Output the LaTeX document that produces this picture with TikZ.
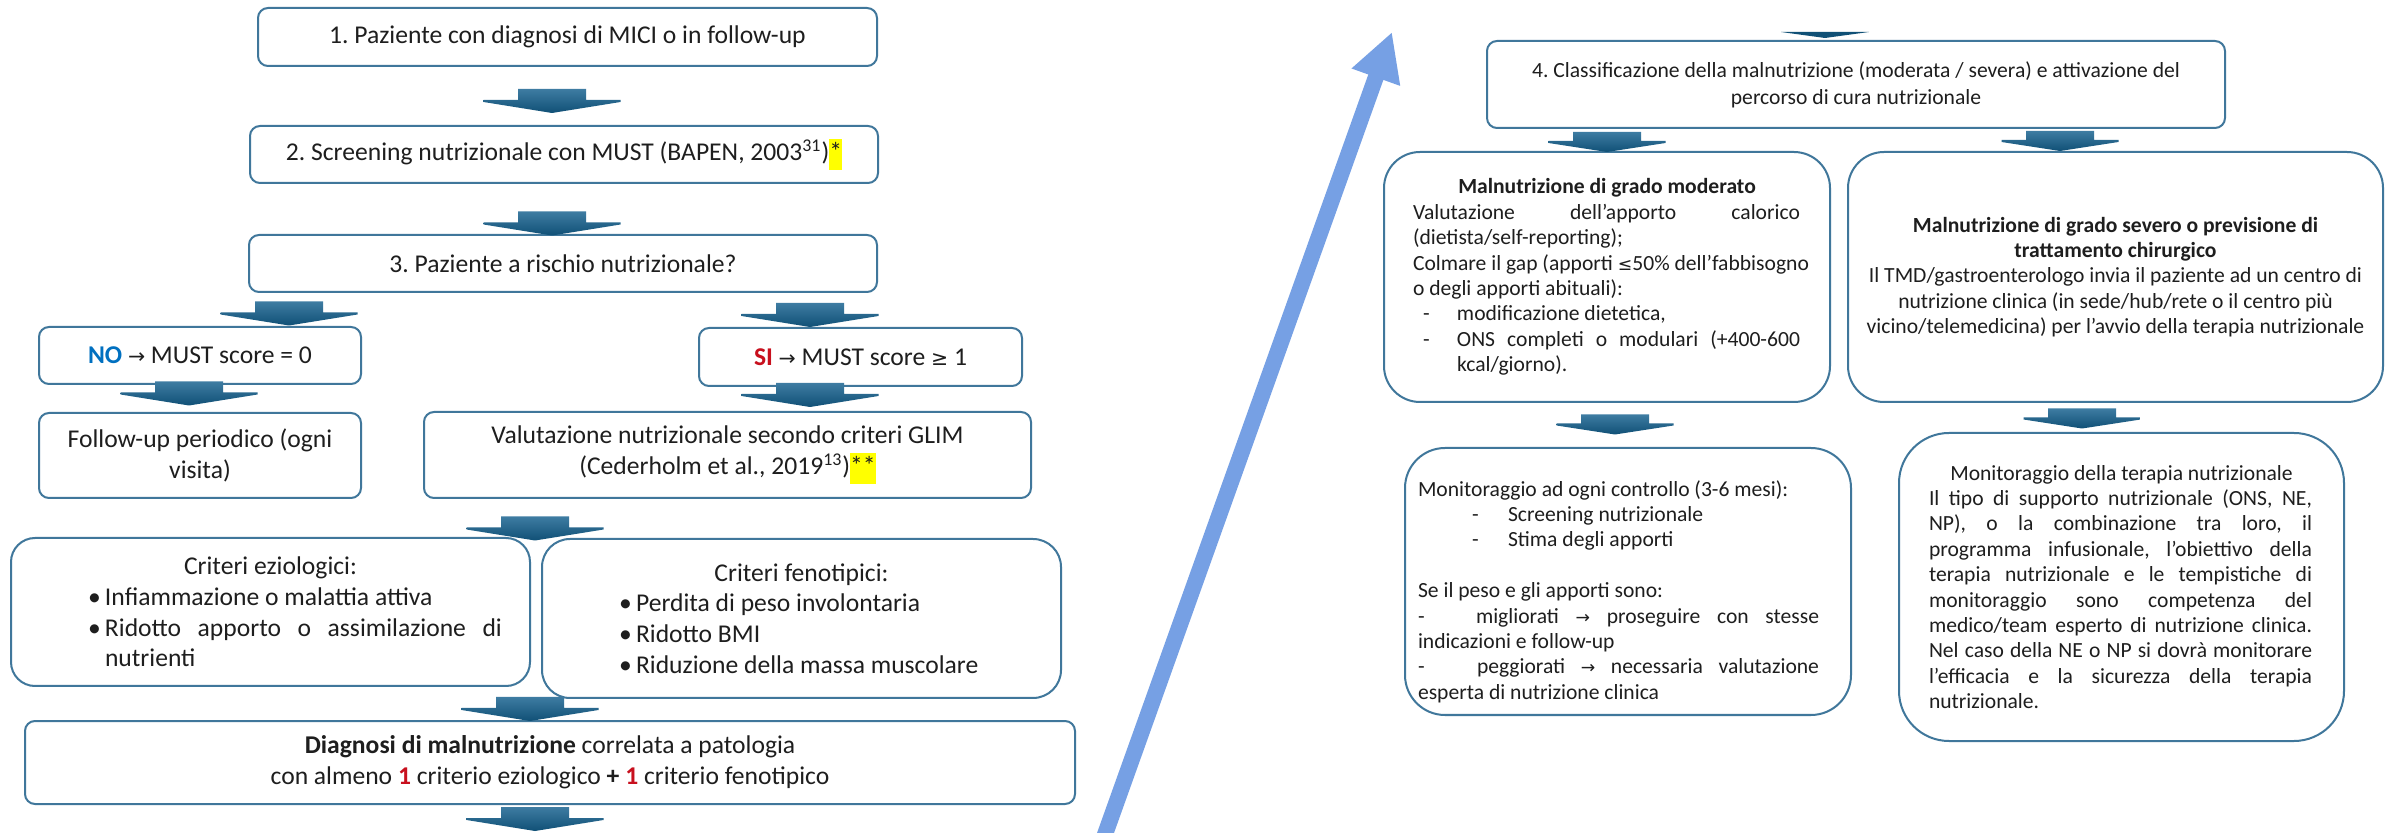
\documentclass[tikz,border=0pt]{standalone}
\usepackage{fontspec}
\setmainfont{Carlito}
\newfontfamily\arrfont[Scale=0.8]{DejaVu Sans}
\usetikzlibrary{arrows.meta}
\frenchspacing

\definecolor{boxline}{RGB}{64,119,155}
\definecolor{arrtop}{RGB}{62,124,162}
\definecolor{arrbot}{RGB}{16,80,118}
\definecolor{bigblue}{RGB}{118,160,228}
\definecolor{txt}{RGB}{30,30,30}
\definecolor{noblue}{RGB}{0,112,192}
\definecolor{sired}{RGB}{200,16,30}
\definecolor{hlyellow}{RGB}{255,255,0}

\newcommand{\lfont}{\fontsize{12.8}{15.3}\selectfont}
\newcommand{\rfont}{\fontsize{10.8}{12.7}\selectfont}
\newcommand{\jl}[2]{\makebox[#1][s]{#2}}
\newcommand{\hlt}[1]{{\setlength{\fboxsep}{0pt}\colorbox{hlyellow}{\strut#1}}}

\tikzset{
  box/.style={draw=boxline, line width=1pt, fill=white, inner sep=0pt, text=txt, rounded corners=5pt, font=\lfont},
  rbox/.style={box, font=\rfont},
  bigarrow/.style={draw=bigblue, line width=8pt, -{Triangle[length=24pt 0 0, width=24pt 0 0]}},
  pics/blockdown/.style 2 args={code={
    \path[top color=arrtop, bottom color=arrbot]
      (-34,-#2) -- (34,-#2) -- (34,-1) -- (#1,-1) -- (#1,1) -- (0,#2) -- (-#1,1) -- (-#1,-1) -- (-34,-1) -- cycle;
  }},
}

\begin{document}
\begin{tikzpicture}[x=0.5pt, y=-0.5pt]
\path[use as bounding box, fill=white] (0,0) rectangle (2394,833);

% Steps 1-3
\node[box, minimum height=29pt, text width=309.5pt, align=flush center] (paz) at (567.5,37) {1. Paziente con diagnosi di MICI o in follow-up};
\node[box, minimum height=28.5pt, text width=314pt, align=flush center] (scr) at (564,154.5) {2. Screening nutrizionale con MUST (BAPEN, 2003\textsuperscript{31})\hlt{*}};
\node[box, minimum height=28.5pt, text width=314pt, align=flush center] (risk) at (563,263.5) {3. Paziente a rischio nutrizionale?};

% NO / SI
\node[box, minimum height=28.5pt, text width=161pt, align=flush center] (no) at (200,355.5) {\textcolor{noblue}{\textbf{NO}} {\arrfont →} MUST score = 0};
\node[box, minimum height=29pt, text width=161.5pt, align=flush center] (si) at (860.5,357) {\textcolor{sired}{\textbf{SI}} {\arrfont →} MUST score {\arrfont ≥} 1};

% Follow-up and GLIM
\node[box, minimum height=42.5pt, text width=161pt, align=flush center] (fup) at (200,455.5) {Follow-up periodico (ogni\\visita)};
\node[box, minimum height=43pt, text width=303.5pt, align=flush center] (glim) at (727.5,455) {Valutazione nutrizionale secondo criteri GLIM\\(Cederholm et al., 2019\textsuperscript{13})\hlt{**}};

% Criteria
\node[box, rounded corners=12pt, minimum height=74pt, text width=259.5pt, align=flush left] (ezio) at (270.5,612) {\makebox[259.5pt]{Criteri eziologici:}\\
\hspace*{38.5pt}\makebox[8.5pt][l]{\textbullet}Infiammazione o malattia attiva\\
\hspace*{38.5pt}\makebox[8.5pt][l]{\textbullet}\jl{198.5pt}{Ridotto apporto o assimilazione di}\\
\hspace*{47pt}nutrienti};
\node[box, rounded corners=14pt, minimum height=79.5pt, text width=259.5pt, align=flush left] (feno) at (801.5,618.5) {\makebox[259.5pt]{Criteri fenotipici:}\\
\hspace*{38.5pt}\makebox[8.5pt][l]{\textbullet}Perdita di peso involontaria\\
\hspace*{38.5pt}\makebox[8.5pt][l]{\textbullet}Ridotto BMI\\
\hspace*{38.5pt}\makebox[8.5pt][l]{\textbullet}Riduzione della massa muscolare};

% Diagnosis
\node[box, minimum height=41.5pt, text width=525pt, align=flush center] (diag) at (550,762.5) {\textbf{Diagnosi di malnutrizione} correlata a patologia\\con almeno \textcolor{sired}{\textbf{1}} criterio eziologico \textbf{+} \textcolor{sired}{\textbf{1}} criterio fenotipico};

% Step 4
\node[rbox, minimum height=43.5pt, text width=369pt, align=flush center, font=\fontsize{10.8}{13.5}\selectfont] (clas) at (1856,84.5) {4. Classificazione della malnutrizione (moderata / severa) e attivazione del\\percorso di cura nutrizionale\\[4pt]};

% Moderate / severe
\node[rbox, rounded corners=18pt, minimum height=125pt, text width=223pt, align=flush left] (mod) at (1607,277) {\makebox[223pt]{\textbf{Malnutrizione di grado moderato}}\\
\hspace*{14.5pt}\jl{193.5pt}{Valutazione dell’apporto calorico}\\
\hspace*{14.5pt}(dietista/self-reporting);\\
\hspace*{14.5pt}Colmare il gap (apporti {\arrfont ≤}50\% dell’fabbisogno\\
\hspace*{14.5pt}o degli apporti abituali):\\
\hspace*{19.5pt}\makebox[17pt][l]{-}modificazione dietetica,\\
\hspace*{19.5pt}\makebox[17pt][l]{-}\jl{171.5pt}{ONS completi o modulari (+400-600}\\
\hspace*{36.5pt}kcal/giorno).};
\node[rbox, rounded corners=18pt, minimum height=125pt, text width=267.5pt, align=flush center] (sev) at (2115.5,277) {\textbf{Malnutrizione di grado severo o previsione di}\\\textbf{trattamento chirurgico}\\Il TMD/gastroenterologo invia il paziente ad un centro di\\nutrizione clinica (in sede/hub/rete o il centro più\\vicino/telemedicina) per l’avvio della terapia nutrizionale};

% Monitoring
\node[rbox, rounded corners=20pt, minimum height=133.5pt, text width=223pt, align=flush left] (monmod) at (1628,581.5) {
\hspace*{6.5pt}\rule{0pt}{18pt}Monitoraggio ad ogni controllo (3-6 mesi):\\
\hspace*{33.5pt}\makebox[18pt][l]{-}Screening nutrizionale\\
\hspace*{33.5pt}\makebox[18pt][l]{-}Stima degli apporti\\[12.7pt]
\hspace*{6.5pt}Se il peso e gli apporti sono:\\
\hspace*{6.5pt}\jl{200.5pt}{\makebox[29pt][l]{-}migliorati {\arrfont →} proseguire con stesse}\\
\hspace*{6.5pt}indicazioni e follow-up\\
\hspace*{6.5pt}\jl{200.5pt}{\makebox[29.5pt][l]{-}peggiorati {\arrfont →} necessaria valutazione}\\
\hspace*{6.5pt}esperta di nutrizione clinica};
\node[rbox, rounded corners=25pt, minimum height=154pt, text width=222.5pt, align=flush left] (monsev) at (2121.5,587) {
\makebox[222.5pt]{Monitoraggio della terapia nutrizionale}\\
\hspace*{15pt}\jl{191.5pt}{Il tipo di supporto nutrizionale (ONS, NE,}\\
\hspace*{15pt}\jl{191.5pt}{NP), o la combinazione tra loro, il}\\
\hspace*{15pt}\jl{191.5pt}{programma infusionale, l’obiettivo della}\\
\hspace*{15pt}\jl{191.5pt}{terapia nutrizionale e le tempistiche di}\\
\hspace*{15pt}\jl{191.5pt}{monitoraggio sono competenza del}\\
\hspace*{15pt}\jl{191.5pt}{medico/team esperto di nutrizione clinica.}\\
\hspace*{15pt}\jl{191.5pt}{Nel caso della NE o NP si dovrà monitorare}\\
\hspace*{15pt}\jl{191.5pt}{l’efficacia e la sicurezza della terapia}\\
\hspace*{15pt}nutrizionale.};

% Block arrows, left column
\pic at (552,101) {blockdown={68.5}{12}};
\pic at (552,223.5) {blockdown={68.5}{12}};
\pic at (289,313.5) {blockdown={68.5}{12}};
\pic at (810,315) {blockdown={68.5}{12}};
\pic at (189,393.5) {blockdown={68.5}{12}};
\pic at (810,395) {blockdown={68.5}{12}};
\pic at (535,528.5) {blockdown={68.5}{12}};
\pic at (530,709) {blockdown={68.5}{12}};
\pic at (535,819) {blockdown={68.5}{12}};

% Block arrows, right column
\fill[arrbot] (1781,32) -- (1869,32) -- (1825,38) -- cycle;
\pic at (1607,142) {blockdown={58.5}{10}};
\pic at (2060,141) {blockdown={58.5}{10}};
\pic at (1615,424.5) {blockdown={58.5}{10}};
\pic at (2082,418.5) {blockdown={58.5}{10}};

% Continuation arrow
\draw[bigarrow] (1103,840) -- (1392,32);

\end{tikzpicture}
\end{document}
